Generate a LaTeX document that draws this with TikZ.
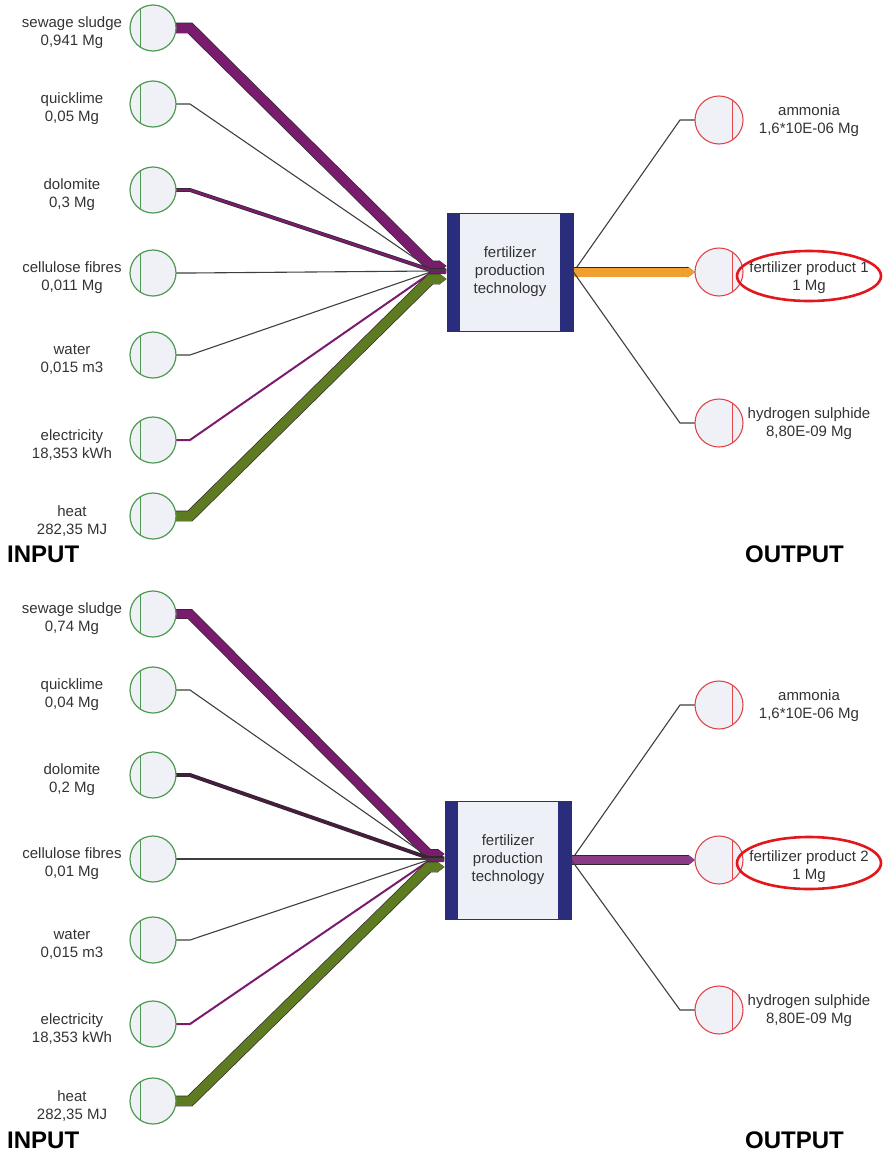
\documentclass[tikz,border=0pt]{standalone}
\usepackage{fontspec}
\setmainfont{Liberation Sans}
\usetikzlibrary{arrows.meta,backgrounds}

\definecolor{flowpurple}{HTML}{7A1C6E}
\definecolor{flowlilac}{HTML}{8B3A87}
\definecolor{flowdark}{HTML}{4B1A3F}
\definecolor{flowgreen}{HTML}{5E7B22}
\definecolor{flowamber}{HTML}{F0A030}
\definecolor{edge}{HTML}{3F3F3F}
\definecolor{rim}{HTML}{2A2A2A}
\definecolor{ingreen}{HTML}{4E9A52}
\definecolor{outred}{HTML}{E0454A}
\definecolor{markred}{HTML}{E3161B}
\definecolor{bubble}{HTML}{F0F1F7}
\definecolor{techblue}{HTML}{2A2C7C}
\definecolor{techfill}{HTML}{EEF0F8}
\definecolor{labeltext}{HTML}{333333}

\begin{document}
\begin{tikzpicture}[x=1pt,y=-1pt,
    inbub/.style={circle,draw=ingreen,fill=bubble,line width=1.2pt,minimum size=46pt,inner sep=0pt,outer sep=0pt},
    outbub/.style={circle,draw=outred,fill=bubble,line width=1.1pt,minimum size=48pt,inner sep=0pt,outer sep=0pt},
    txt/.style={align=center,text=labeltext,font=\fontsize{15}{18}\selectfont,inner sep=0pt},
    tech/.style={txt,draw=techblue,fill=techfill,line width=0.8pt,minimum width=126pt,minimum height=118pt},
    side/.style={font=\fontsize{24}{26}\selectfont\bfseries,inner sep=0pt,anchor=west},
    flowtip/.style={-{Triangle[length=0pt 0.7,width=0pt 1]}},
  ]
  \useasboundingbox (0,0) rectangle (886,1154);
  \node[tech] (tA) at (510,272) {fertilizer\\production\\technology};
  \node[tech] (tB) at (508,860) {fertilizer\\production\\technology};
  \foreach \t in {tA,tB} {
    \fill[techblue] (\t.north west) rectangle ([xshift=13pt]\t.south west);
    \fill[techblue] ([xshift=-13pt]\t.north east) rectangle (\t.south east);
  }
  \def\ins{a1/28/sewage sludge/{0,941 Mg}/flowpurple/9.5/6/tA,
           a2/104/quicklime/{0,05 Mg}/edge/1.1/3/tA,
           a3/190/dolomite/{0,3 Mg}/flowpurple/2.5/2/tA,
           a4/273/cellulose fibres/{0,011 Mg}/edge/1.1/1/tA,
           a5/355/water/{0,015 m3}/edge/1.1/0/tA,
           a6/440/electricity/{18,353 kWh}/flowpurple/2/-1/tA,
           a7/516/heat/{282,35 MJ}/flowgreen/9.5/-7/tA,
           b1/614/sewage sludge/{0,74 Mg}/flowpurple/8.5/6/tB,
           b2/690/quicklime/{0,04 Mg}/edge/1.1/3/tB,
           b3/775/dolomite/{0,2 Mg}/flowdark/2.5/2/tB,
           b4/859/cellulose fibres/{0,01 Mg}/edge/1.1/1/tB,
           b5/940/water/{0,015 m3}/edge/1.1/0/tB,
           b6/1024/electricity/{18,353 kWh}/flowpurple/2/-1/tB,
           b7/1101/heat/{282,35 MJ}/flowgreen/9.5/-7/tB}
  %   name / y / label / amount / colour / width / shift at box / box
  \foreach \n/\y/\name/\amt/\col/\w/\s/\t in \ins {
    \node[inbub] (\n) at (153,\y) {};
    \draw[ingreen,line width=1.2pt] (\n.124) -- (\n.236);
    \node[txt] (l\n) at (72,\y+5) {\name\\\amt};
    \begin{scope}[on background layer]
      \ifdim\w pt>2pt
        \draw[rim,line width=\w pt+1.4pt,flowtip] (\n.east) -- ++(14,0) -- ([xshift=-16pt,yshift=\s pt]\t.west) -- ([yshift=\s pt]\t.west);
      \fi
      \draw[\col,line width=\w pt,flowtip] (\n.east) -- ++(14,0) -- ([xshift=-16pt,yshift=\s pt]\t.west) -- ([yshift=\s pt]\t.west);
    \end{scope}
  }
  \def\outs{o1/120/121/ammonia/{1,6*10E-06 Mg}/edge/1.1/tA,
            o2/272/278/fertilizer product 1/1 Mg/flowamber/9/tA,
            o3/423/424/hydrogen sulphide/{8,80E-09 Mg}/edge/1.1/tA,
            p1/705/706/ammonia/{1,6*10E-06 Mg}/edge/1.1/tB,
            p2/860/867/fertilizer product 2/1 Mg/flowlilac/8/tB,
            p3/1010/1011/hydrogen sulphide/{8,80E-09 Mg}/edge/1.1/tB}
  \foreach \n/\y/\ly/\name/\amt/\col/\w/\t in \outs {
    \node[outbub] (\n) at (719,\y) {};
    \draw[outred,line width=1.1pt] (\n.57) -- (\n.-57);
    \node[txt] (l\n) at (809,\ly) {\name\\\amt};
    \begin{scope}[on background layer]
      \ifdim\w pt>2pt
        \draw[rim,line width=\w pt+1.4pt,flowtip] (\t.east) -- ([xshift=-15pt]\n.west) -- (\n.west);
      \fi
      \draw[\col,line width=\w pt,flowtip] (\t.east) -- ([xshift=-15pt]\n.west) -- (\n.west);
    \end{scope}
  }
  \draw[markred,line width=2.6pt] ([yshift=2pt]lo2) ellipse [x radius=72,y radius=25];
  \draw[markred,line width=2.6pt] ([yshift=4pt]lp2) ellipse [x radius=72,y radius=26];
  \node[side] (inA) at (7,554) {INPUT};
  \node[side] (outA) at (745,554) {OUTPUT};
  \node[side] (inB) at (7,1140) {INPUT};
  \node[side] (outB) at (745,1140) {OUTPUT};
\end{tikzpicture}
\end{document}
